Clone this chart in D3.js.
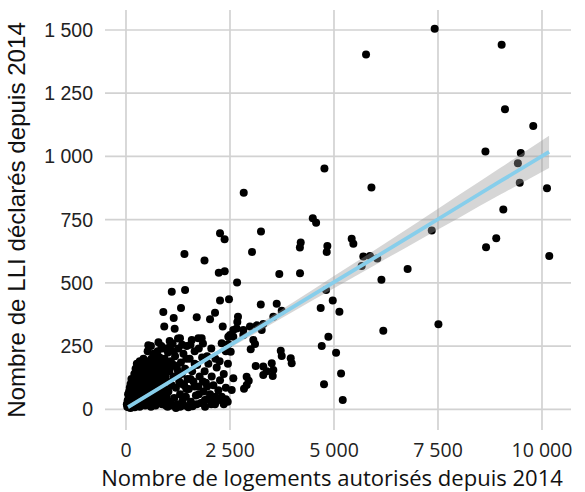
<!DOCTYPE html>
<html lang="fr">
<head>
    <meta charset="utf-8">
    <style>
        body { margin: 0; background: #fff; }
        svg { display: block; }
    </style>
</head>
<body>
    <svg width="585" height="492"></svg>
    <script src="https://cdn.jsdelivr.net/npm/d3@7"></script>
    <script>
        // Communes : [logements autorisés, LLI déclarés] depuis 2014
        const communes = [
            // valeurs isolées
            [7420, 1505], [5770, 1403], [9030, 1442], [9110, 1187], [9790, 1120], [8640, 1020],
            [9490, 1014], [9420, 973], [9465, 896], [10120, 874], [4770, 952], [5900, 877],
            [9070, 790], [8900, 676], [8655, 641], [7350, 707], [4490, 756], [4570, 738],
            [4200, 660], [4180, 640], [4840, 646], [4825, 622], [5425, 674], [5465, 655],
            [10175, 606], [5705, 604], [5865, 606], [6040, 596], [5665, 567], [4183, 538],
            [6770, 555], [6140, 512], [4810, 472], [4970, 430], [4680, 401], [5130, 386],
            [6185, 311], [7510, 336], [4865, 287], [4705, 250], [5050, 224], [5170, 142],
            [4760, 99], [5210, 37], [2830, 856], [2260, 696], [2370, 672], [3245, 703],
            [1405, 614], [1887, 588], [3030, 622], [2230, 540], [2373, 546], [3685, 535],
            [2670, 501], [1100, 465], [1420, 472], [2260, 430], [2476, 435], [3240, 414],
            [3623, 417], [897, 385], [1322, 401], [1147, 361], [1700, 364], [2020, 356],
            [2140, 382], [2692, 366], [2676, 345], [920, 327], [1170, 319], [2325, 327],
            [2580, 314], [2500, 294], [2980, 327], [3142, 332], [3300, 337], [3541, 366],
            [3743, 390], [536, 253], [361, 182], [560, 182], [1058, 248], [1298, 281],
            [1580, 274], [1738, 281], [1819, 281], [2460, 258], [2517, 228], [3720, 232],
            [3743, 211], [3960, 202], [3983, 182], [3118, 171], [3300, 169], [3503, 182],
            [3541, 155], [3300, 136], [2950, 113], [2902, 96], [2837, 81], [3527, 132],
            [2580, 123], [2445, 30], [2260, 37], [2099, 44], [1899, 37], [2580, 287],
            [3262, 314], [3060, 274], [3101, 258], [2998, 237], [3382, 150], [2541, 76],
            [2900, 129], [2820, 294], [2459, 287], [2300, 261], [2660, 320], [2820, 314],
            // nuage dense près de l'origine
            [30, 10], [45, 25], [60, 8], [70, 40], [80, 15], [95, 55], [100, 30], [110, 5],
            [120, 70], [130, 20], [140, 45], [150, 90], [160, 12], [170, 60], [180, 30],
            [190, 110], [200, 50], [210, 8], [220, 75], [230, 25], [240, 130], [250, 95],
            [260, 40], [270, 15], [280, 60], [290, 150], [300, 105],
            [310, 30], [320, 80], [330, 10], [340, 125], [350, 55], [360, 170], [370, 35],
            [380, 95], [390, 140], [400, 20], [410, 70], [420, 110], [430, 45], [440, 160],
            [450, 85], [460, 15], [470, 120], [480, 60], [490, 190], [500, 35], [510, 100],
            [520, 145], [530, 70], [540, 20], [550, 175], [560, 115], [570, 50], [580, 130],
            [590, 90], [600, 10],
            [610, 200], [620, 65], [630, 150], [640, 30], [650, 110], [660, 220], [670, 80],
            [680, 170], [690, 45], [700, 125], [710, 15], [720, 190], [730, 95], [740, 140],
            [750, 55], [760, 230], [770, 105], [780, 25], [790, 160], [800, 75], [810, 205],
            [820, 120], [830, 40], [840, 180], [850, 90], [860, 135], [870, 20], [880, 240],
            [890, 60], [900, 155], [910, 105], [920, 35], [930, 200], [940, 80], [950, 130],
            [960, 15], [970, 175], [980, 50], [990, 110],
            [1010, 225], [1020, 70], [1040, 150], [1060, 30], [1080, 190], [1100, 95],
            [1120, 260], [1140, 130], [1160, 45], [1180, 210], [1200, 85], [1220, 165],
            [1240, 20], [1260, 240], [1280, 110], [1300, 60], [1320, 185], [1340, 140],
            [1360, 35], [1380, 220], [1400, 95], [1420, 160], [1440, 50], [1460, 250],
            [1480, 120],
            [1510, 80], [1530, 200], [1560, 30], [1590, 150], [1620, 110], [1650, 230],
            [1680, 55], [1710, 175], [1740, 90], [1770, 130], [1800, 25], [1830, 205],
            [1860, 70], [1890, 150], [1920, 105], [1950, 40], [1980, 180],
            [2020, 60], [2060, 130], [2100, 95], [2140, 20], [2180, 165], [2220, 75],
            [2260, 115], [2300, 50], [2350, 140], [2400, 85], [2450, 180],
            [330, 190], [420, 200], [520, 230], [600, 250], [700, 215], [780, 265], [850, 250],
            [950, 240], [1050, 270], [1150, 230], [1250, 280], [1350, 255], [1450, 200],
            [1550, 255], [1650, 180], [1750, 240], [1850, 260], [1950, 210], [2050, 240],
            [2150, 200], [2250, 190], [2400, 230],
            [250, 140], [350, 110], [450, 130], [550, 150], [650, 170], [750, 180], [850, 150],
            [950, 175], [1050, 160], [1150, 175], [1250, 150], [1350, 100], [1450, 80],
            [1550, 120], [1650, 90], [1750, 60], [1850, 110], [1950, 90], [2050, 20], [2150, 50],
            [2350, 20], [2400, 40], [1000, 10], [1100, 15], [1200, 5], [1300, 10], [1400, 15],
            [1500, 8], [1600, 12], [1700, 20], [1900, 10],
            [20, 20], [50, 60], [90, 85], [110, 100], [130, 120], [60, 40], [40, 35], [75, 70],
            [180, 80], [200, 140], [230, 160], [260, 180], [280, 120]
        ];

        // Droite de régression (lm) et intervalle de confiance
        const fitX     = [50, 1000, 2000, 3000, 4000, 5000, 6000, 7000, 8000, 9000, 10170];
        const fitY     = [9, 104, 204, 303, 403, 503, 602, 702, 802, 902, 1018];
        const fitLow   = [0, 98, 196, 290, 385, 479, 572, 665, 757, 849, 954];
        const fitHigh  = [18, 110, 212, 316, 421, 527, 632, 739, 847, 955, 1082];

        const xTicks = [0, 2500, 5000, 7500, 10000];
        const yTicks = [0, 250, 500, 750, 1000, 1250, 1500];

        const xTitle = "Nombre de logements autorisés depuis 2014";
        const yTitle = "Nombre de LLI déclarés depuis 2014";

        const svg = d3.select("svg");

        // Panel bounds
        const panel = { left: 105, right: 571, top: 10, bottom: 430 };

        const x = d3.scaleLinear().domain([0, 10000]).range([126, 542]);
        const y = d3.scaleLinear().domain([0, 1500]).range([409.3, 30]);

        const fmt = d => d3.format(",")(d).replace(/,/g, " ");

        /************************************************************
        * Grid
        ************************************************************/
        const grid = svg.append("g").attr("stroke", "#d2d2d2").attr("stroke-width", 1.7);
        grid.selectAll(".gy").data(yTicks).enter().append("line")
            .attr("x1", panel.left).attr("x2", panel.right)
            .attr("y1", d => y(d)).attr("y2", d => y(d));
        grid.selectAll(".gx").data(xTicks).enter().append("line")
            .attr("y1", panel.top).attr("y2", panel.bottom)
            .attr("x1", d => x(d)).attr("x2", d => x(d));

        /************************************************************
        * Points
        ************************************************************/
        svg.append("g").selectAll("circle").data(communes).enter()
            .append("circle")
            .attr("cx", d => x(d[0])).attr("cy", d => y(d[1]))
            .attr("r", 4)
            .attr("fill", "#000");

        /************************************************************
        * Regression band + line
        ************************************************************/
        const fit = fitX.map((v, i) => ({ x: v, y: fitY[i], lo: fitLow[i], hi: fitHigh[i] }));

        svg.append("path").datum(fit)
            .attr("fill", "#999999").attr("fill-opacity", 0.4)
            .attr("d", d3.area().x(d => x(d.x)).y0(d => y(d.lo)).y1(d => y(d.hi)).curve(d3.curveMonotoneX));

        svg.append("path").datum(fit)
            .attr("fill", "none").attr("stroke", "#87CEEB").attr("stroke-width", 3.8)
            .attr("d", d3.line().x(d => x(d.x)).y(d => y(d.y)));

        /************************************************************
        * Axis labels
        ************************************************************/
        svg.append("g").selectAll("text").data(yTicks).enter().append("text")
            .attr("x", 93).attr("y", d => y(d)).attr("dy", "0.36em")
            .attr("text-anchor", "end")
            .style("font-family", "'Liberation Sans', Arial, sans-serif")
            .style("font-size", "19.5px").style("fill", "#222")
            .text(fmt);

        svg.append("g").selectAll("text").data(xTicks).enter().append("text")
            .attr("x", d => x(d)).attr("y", 457)
            .attr("text-anchor", "middle")
            .style("font-family", "'Open Sans', sans-serif")
            .style("font-size", "19.5px").style("fill", "#222")
            .text(fmt);

        // Fit a title to the length it has in the reference
        function fitText(sel, target) {
            const len = sel.node().getComputedTextLength();
            const size = parseFloat(sel.style("font-size"));
            sel.style("font-size", (size * target / len) + "px");
        }

        const xt = svg.append("text")
            .attr("x", 332).attr("y", 485.5)
            .attr("text-anchor", "middle")
            .style("font-family", "'Open Sans', sans-serif")
            .style("font-size", "21px").style("fill", "#111")
            .text(xTitle);
        fitText(xt, 462);

        const yt = svg.append("text")
            .attr("transform", `translate(24.5, ${(panel.top + panel.bottom) / 2}) rotate(-90)`)
            .attr("text-anchor", "middle")
            .style("font-family", "'Liberation Sans', Arial, sans-serif")
            .style("font-size", "21px").style("fill", "#111")
            .text(yTitle);
        fitText(yt, 396);
    </script>
</body>
</html>
